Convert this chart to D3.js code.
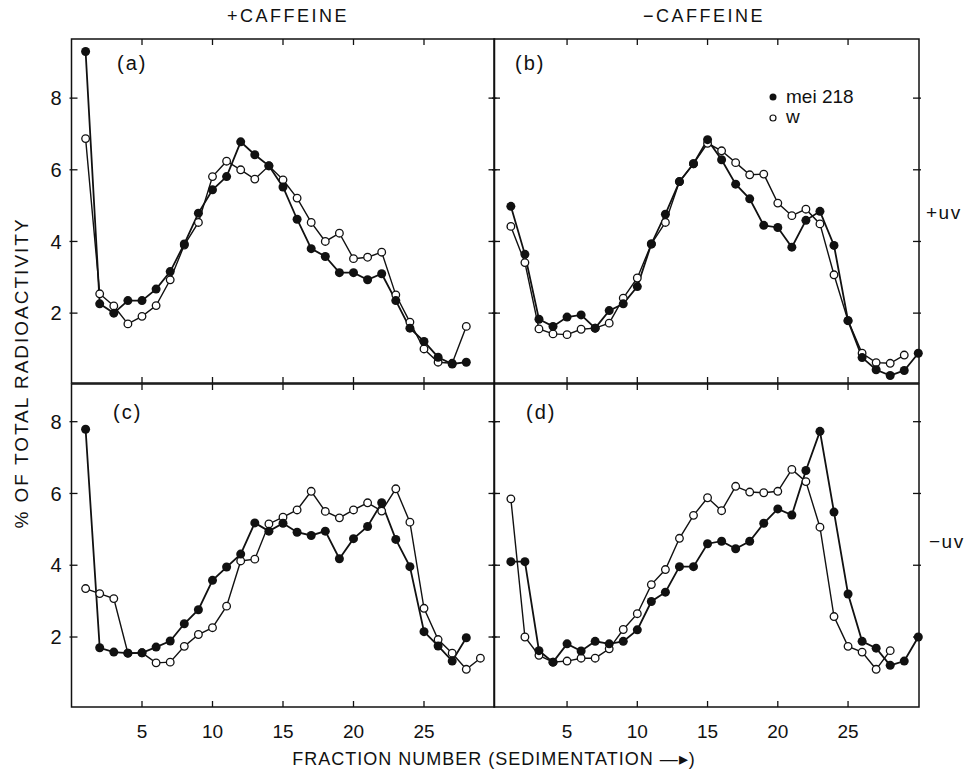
<!DOCTYPE html>
<html>
<head>
<meta charset="utf-8">
<script src="https://cdn.jsdelivr.net/npm/d3@7/dist/d3.min.js"></script>
<style>
  html, body { margin: 0; padding: 0; background: #fff; }
  text { font-family: "Liberation Sans", Arial, sans-serif; fill: #111; }
</style>
</head>
<body>
<div id="chart"></div>
<script>
// fraction numbers start at 1 for every series
var xTicks = [5, 10, 15, 20, 25];
var yTicks = [2, 4, 6, 8];

// (a) +caffeine, +uv
var aMei = [9.3, 2.26, 2.0, 2.35, 2.35, 2.67, 3.16, 3.93, 4.79, 5.44, 5.81, 6.78, 6.42, 6.11, 5.52,
            4.62, 3.8, 3.58, 3.13, 3.13, 2.93, 3.1, 2.35, 1.58, 1.21, 0.77, 0.58, 0.63];
var aW   = [6.87, 2.54, 2.2, 1.7, 1.91, 2.21, 2.93, 3.9, 4.53, 5.81, 6.24, 6.0, 5.74, 6.11, 5.72,
            5.21, 4.53, 4.0, 4.23, 3.52, 3.56, 3.7, 2.51, 1.75, 1.0, 0.63, 0.6, 1.63];
// (b) -caffeine, +uv
var bMei = [4.98, 3.64, 1.83, 1.63, 1.89, 1.95, 1.58, 2.07, 2.26, 2.74, 3.93, 4.76, 5.67, 6.17, 6.84,
            6.28, 5.6, 5.19, 4.45, 4.39, 3.84, 4.59, 4.84, 3.89, 1.79, 0.76, 0.42, 0.26, 0.4, 0.88];
var bW   = [4.42, 3.41, 1.56, 1.42, 1.4, 1.55, 1.58, 1.72, 2.42, 2.98, 3.93, 4.53, 5.67, 6.17, 6.74,
            6.53, 6.2, 5.86, 5.88, 5.07, 4.72, 4.9, 4.49, 3.07, 1.79, 0.88, 0.62, 0.6, 0.83];
// (c) +caffeine, -uv
var cMei = [7.79, 1.7, 1.58, 1.55, 1.56, 1.72, 1.89, 2.37, 2.76, 3.58, 3.95, 4.31, 5.18, 4.95, 5.17,
            4.92, 4.83, 4.95, 4.18, 4.74, 5.08, 5.74, 4.72, 3.96, 2.15, 1.75, 1.33, 1.98];
var cW   = [3.35, 3.21, 3.07, 1.55, 1.56, 1.28, 1.3, 1.74, 2.07, 2.26, 2.86, 4.12, 4.17, 5.15, 5.34,
            5.54, 6.06, 5.5, 5.32, 5.54, 5.74, 5.51, 6.13, 5.2, 2.8, 1.93, 1.55, 1.1, 1.41];
// (d) -caffeine, -uv
var dMei = [4.1, 4.1, 1.62, 1.3, 1.81, 1.61, 1.88, 1.81, 1.88, 2.2, 2.99, 3.25, 3.96, 3.96, 4.6,
            4.67, 4.46, 4.67, 5.17, 5.57, 5.4, 6.64, 7.73, 5.48, 3.2, 1.88, 1.69, 1.21, 1.33, 2.0];
var dW   = [5.85, 2.0, 1.49, 1.3, 1.33, 1.41, 1.41, 1.67, 2.21, 2.65, 3.46, 3.88, 4.75, 5.39, 5.88,
            5.52, 6.2, 6.04, 6.02, 6.06, 6.67, 6.33, 5.06, 2.57, 1.74, 1.58, 1.1, 1.62];

var width = 971, height = 776;

var svg = d3.select("#chart").append("svg")
  .attr("width", width)
  .attr("height", height);

// left / right columns
var xLeft = d3.scaleLinear().domain([0, 30]).range([71.5, 494.5]);
var xRight = d3.scaleLinear().domain([-0.2, 30.05]).range([494, 919]);
// top / bottom rows
var yTop = d3.scaleLinear().domain([0.05, 9.65]).range([383, 39]);
var yBottom = d3.scaleLinear().domain([0.05, 9.05]).range([707, 384]);

var panels = [
  { label: "(a)", x: xLeft,  y: yTop,    mei: aMei, w: aW, lx: 117, ly: 70 },
  { label: "(b)", x: xRight, y: yTop,    mei: bMei, w: bW, lx: 515, ly: 70 },
  { label: "(c)", x: xLeft,  y: yBottom, mei: cMei, w: cW, lx: 113, ly: 419 },
  { label: "(d)", x: xRight, y: yBottom, mei: dMei, w: dW, lx: 526, ly: 419 }
];

panels.forEach(function (p, i) {
  drawPanel(p, i);
});

function drawPanel(p, i) {
  var g = svg.append("g");
  var x0 = p.x.range()[0], x1 = p.x.range()[1];
  var y0 = p.y.range()[1], y1 = p.y.range()[0];

  g.append("rect")
    .attr("x", x0).attr("y", y0)
    .attr("width", x1 - x0).attr("height", y1 - y0)
    .attr("fill", "none")
    .attr("stroke", "#111")
    .attr("stroke-width", 1.5);

  // ticks pointing inward on all four sides
  var tl = 6;
  g.selectAll(".xt-b").data(xTicks).join("line")
    .attr("class", "xt-b")
    .attr("x1", (d) => p.x(d)).attr("x2", (d) => p.x(d))
    .attr("y1", y1).attr("y2", y1 - tl)
    .attr("stroke", "#111").attr("stroke-width", 1.3);
  g.selectAll(".xt-t").data(xTicks).join("line")
    .attr("class", "xt-t")
    .attr("x1", (d) => p.x(d)).attr("x2", (d) => p.x(d))
    .attr("y1", y0).attr("y2", y0 + tl)
    .attr("stroke", "#111").attr("stroke-width", 1.3);
  g.selectAll(".yt-l").data(yTicks).join("line")
    .attr("class", "yt-l")
    .attr("x1", x0 - 2).attr("x2", x0 + tl)
    .attr("y1", (d) => p.y(d)).attr("y2", (d) => p.y(d))
    .attr("stroke", "#111").attr("stroke-width", 1.3);
  g.selectAll(".yt-r").data(yTicks).join("line")
    .attr("class", "yt-r")
    .attr("x1", x1 - tl).attr("x2", x1 + 2)
    .attr("y1", (d) => p.y(d)).attr("y2", (d) => p.y(d))
    .attr("stroke", "#111").attr("stroke-width", 1.3);

  // tick labels only on the outer edges
  if (i % 2 == 0) {
    g.selectAll(".ylab").data(yTicks).join("text")
      .attr("class", "ylab")
      .attr("x", x0 - 10)
      .attr("y", (d) => p.y(d))
      .attr("dy", "0.36em")
      .attr("text-anchor", "end")
      .style("font-size", "20px")
      .text((d) => d);
  }
  if (i >= 2) {
    g.selectAll(".xlab").data(xTicks).join("text")
      .attr("class", "xlab")
      .attr("x", (d) => p.x(d))
      .attr("y", y1 + 31)
      .attr("text-anchor", "middle")
      .style("font-size", "19px")
      .text((d) => d);
  }

  g.append("text")
    .attr("x", p.lx).attr("y", p.ly)
    .style("font-size", "20px")
    .style("letter-spacing", "2px")
    .text(p.label);

  var line = d3.line()
    .x((d, k) => p.x(k + 1))
    .y((d) => p.y(d));

  // w series (open circles) under mei 218 (filled)
  g.append("path").datum(p.w)
    .attr("d", line)
    .attr("fill", "none").attr("stroke", "#111").attr("stroke-width", 1.4);
  g.append("path").datum(p.mei)
    .attr("d", line)
    .attr("fill", "none").attr("stroke", "#111").attr("stroke-width", 1.8);

  g.selectAll(".wpt").data(p.w).join("circle")
    .attr("class", "wpt")
    .attr("cx", (d, k) => p.x(k + 1))
    .attr("cy", (d) => p.y(d))
    .attr("r", 3.8)
    .attr("fill", "#fff")
    .attr("stroke", "#111")
    .attr("stroke-width", 1.3);
  g.selectAll(".mpt").data(p.mei).join("circle")
    .attr("class", "mpt")
    .attr("cx", (d, k) => p.x(k + 1))
    .attr("cy", (d) => p.y(d))
    .attr("r", 4.5)
    .attr("fill", "#111");
}

// column titles
svg.append("text")
  .attr("x", 288).attr("y", 22)
  .attr("text-anchor", "middle")
  .style("font-size", "18px")
  .style("letter-spacing", "2.5px")
  .text("+CAFFEINE");
svg.append("text")
  .attr("x", 704).attr("y", 22)
  .attr("text-anchor", "middle")
  .style("font-size", "18px")
  .style("letter-spacing", "2.5px")
  .text("\u2212CAFFEINE");

// row labels
svg.append("text")
  .attr("x", 926).attr("y", 219)
  .style("font-size", "19px")
  .style("letter-spacing", "1.5px")
  .text("+uv");
svg.append("text")
  .attr("x", 929).attr("y", 548)
  .style("font-size", "19px")
  .style("letter-spacing", "1.5px")
  .text("\u2212uv");

// legend
svg.append("circle").attr("cx", 773).attr("cy", 97).attr("r", 3.5).attr("fill", "#111");
svg.append("text").attr("x", 786).attr("y", 103)
  .style("font-size", "19px").text("mei 218");
svg.append("circle").attr("cx", 773).attr("cy", 118).attr("r", 3)
  .attr("fill", "#fff").attr("stroke", "#111").attr("stroke-width", 1.2);
svg.append("text").attr("x", 786).attr("y", 123)
  .style("font-size", "19px").text("w");

// axis titles
svg.append("text")
  .attr("transform", "translate(28,373) rotate(-90)")
  .attr("text-anchor", "middle")
  .style("font-size", "19px")
  .style("letter-spacing", "2px")
  .text("% OF TOTAL RADIOACTIVITY");
svg.append("text")
  .attr("x", 494).attr("y", 765)
  .attr("text-anchor", "middle")
  .style("font-size", "18px")
  .style("letter-spacing", "1px")
  .text("FRACTION NUMBER (SEDIMENTATION \u2014\u25B8)");
</script>
</body>
</html>
